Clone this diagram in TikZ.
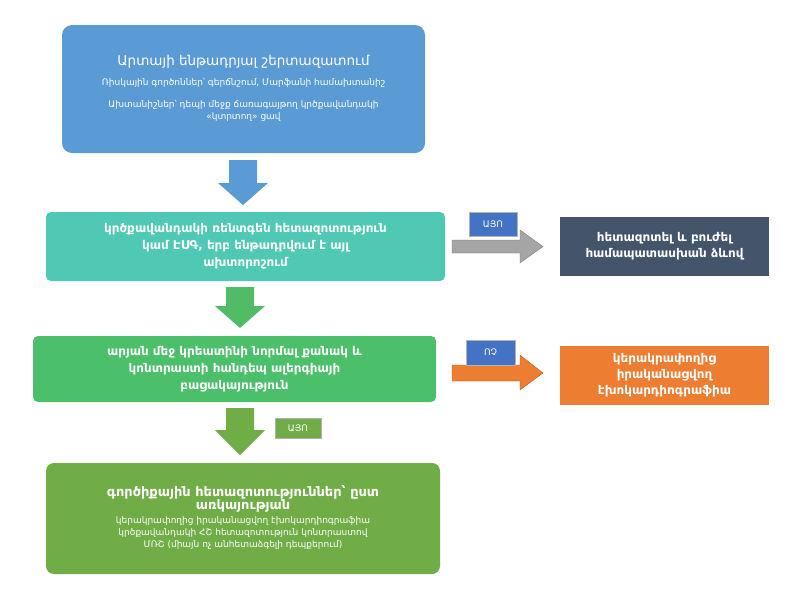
\documentclass[tikz,border=0pt]{standalone}
\usepackage{fontspec}
\setmainfont{DejaVu Sans}
\usetikzlibrary{positioning}
\definecolor{cblue}{HTML}{5B9BD5}
\definecolor{cteal}{HTML}{4FC9B3}
\definecolor{cgreenA}{HTML}{4CBF6A}
\definecolor{cgreen}{HTML}{70AD47}
\definecolor{cdark}{HTML}{44546A}
\definecolor{corange}{HTML}{ED7D31}
\definecolor{cgray}{HTML}{A5A5A5}
\definecolor{clbl}{HTML}{4472C4}
\begin{document}
\begin{tikzpicture}[x=1pt,y=-1pt,
  box/.style={draw=none,rounded corners=8pt,text=white,align=center,inner sep=0pt},
  sbox/.style={draw=none,text=white,align=center,inner sep=0pt},
  lbl/.style={draw=white!70!black,line width=0.4pt,text=white,font=\fontsize{9}{10}\selectfont,minimum width=47pt,minimum height=22pt,inner sep=0pt}]
\useasboundingbox (0,0) rectangle (800,598);
\fill[white] (0,0) rectangle (800,598);
% boxes
\fill[cblue,rounded corners=10pt] (62,25) rectangle (425,153);
\node[box] (b1) at (243.5,89) {\begin{tabular}{c}
{\fontsize{13.5}{16}\selectfont Արտայի ենթադրյալ շերտազատում}\\[8pt]
{\fontsize{9}{11}\selectfont Ռիսկային գործոններ՝ գերճնշում, Մարֆանի համախտանիշ}\\[10pt]
{\fontsize{9}{13}\selectfont Ախտանիշներ՝ դեպի մեջք ճառագայթող կրծքավանդակի}\\
{\fontsize{9}{13}\selectfont «կտրտող» ցավ}\end{tabular}};
\fill[cteal,rounded corners=5pt] (46,212) rectangle (445,281);
\node[box,font=\bfseries\fontsize{12}{17}\selectfont] (b2) at (245.5,246.5) {կրծքավանդակի ռենտգեն հետազոտություն\\կամ ԷՍԳ, երբ ենթադրվում է այլ\\ախտորոշում};
\fill[cgreenA,rounded corners=5pt] (33,336) rectangle (436,402);
\node[box,font=\bfseries\fontsize{12}{17}\selectfont] (b3) at (234.5,369) {արյան մեջ կրեատինի նորմալ քանակ և\\կոնտրաստի հանդեպ ալերգիայի\\բացակայություն};
\fill[cgreen,rounded corners=8pt] (46,463) rectangle (440,574);
\node[box] (b4) at (243,518.5) {\begin{tabular}{c}
{\bfseries\fontsize{13}{16}\selectfont գործիքային հետազոտություններ՝ ըստ}\\
{\bfseries\fontsize{13}{16}\selectfont առկայության}\\[2pt]
{\fontsize{9}{14}\selectfont կերակրափողից իրականացվող էխոկարդիոգրաֆիա}\\
{\fontsize{9}{14}\selectfont կրծքավանդակի ՀՇ հետազոտություն կոնտրաստով}\\
{\fontsize{9}{14}\selectfont ՄՌՇ (միայն ոչ անհետաձգելի դեպքերում)}\end{tabular}};
\fill[cdark] (560,217) rectangle (769,276);
\node[sbox,font=\bfseries\fontsize{12}{16}\selectfont] (d) at (664.5,246.5) {հետազոտել և բուժել\\համապատասխան ձևով};
\fill[corange] (560,346) rectangle (769,405);
\node[sbox,font=\bfseries\fontsize{12}{16}\selectfont] (o) at (664.5,375.5) {կերակրափողից\\իրականացվող\\էխոկարդիոգրաֆիա};
% block arrows
\fill[cblue] (229,160) -- (257,160) -- (257,183) -- (268,183) -- (243,205) -- (218,183) -- (229,183) -- cycle;
\fill[cgreenA!85!cgreen] (226,287) -- (254,287) -- (254,306) -- (265,306) -- (240,328) -- (215,306) -- (226,306) -- cycle;
\fill[cgreen] (226,408) -- (254,408) -- (254,430) -- (265,430) -- (240,455) -- (215,430) -- (226,430) -- cycle;
\filldraw[fill=cgray,draw=cgray!70!black,line width=0.3pt] (452,240) -- (520,240) -- (520,230) -- (543,246.5) -- (520,263) -- (520,253) -- (452,253) -- cycle;
\filldraw[fill=corange,draw=corange!70!black,line width=0.3pt] (452,365) -- (520,365) -- (520,355) -- (543,373) -- (520,390) -- (520,381) -- (452,381) -- cycle;
% labels
\node[lbl,fill=clbl,minimum width=48pt,minimum height=24pt] (l1) at (493,224) {ԱՅՈ};
\node[lbl,fill=clbl,minimum width=49pt,minimum height=25pt] (l2) at (490.5,352.5) {ՈՉ};
\node[lbl,fill=cgreen,minimum width=46pt,minimum height=20pt] (l3) at (298,428) {ԱՅՈ};
\end{tikzpicture}
\end{document}
